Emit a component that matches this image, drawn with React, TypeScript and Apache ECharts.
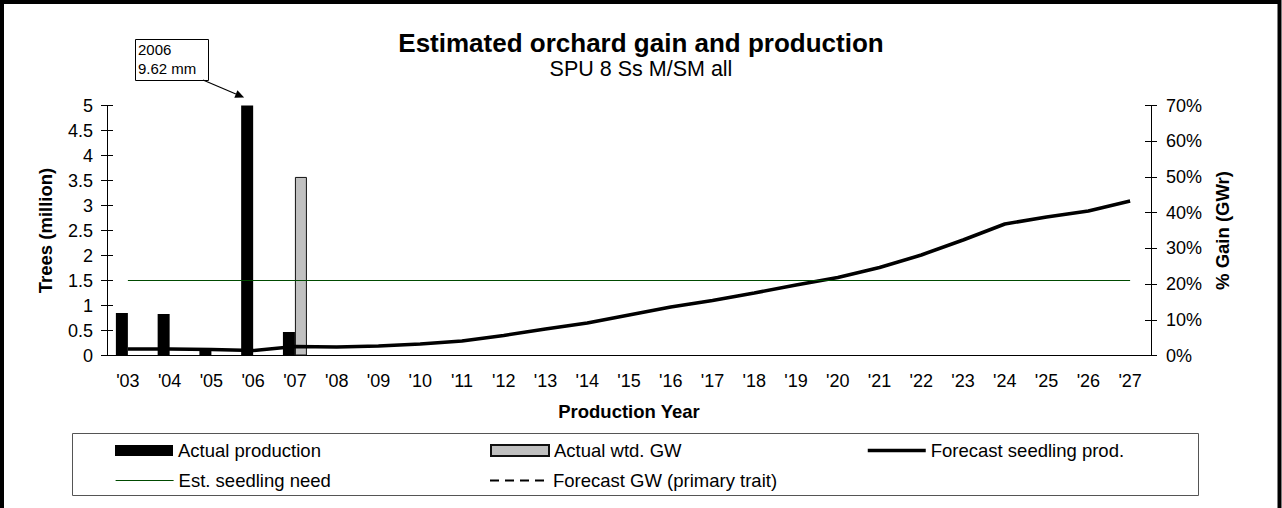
import React, { useEffect, useRef } from "react";
import * as echarts from "echarts";

const categories = [
  "'03", "'04", "'05", "'06", "'07", "'08", "'09", "'10", "'11", "'12", "'13", "'14", "'15",
  "'16", "'17", "'18", "'19", "'20", "'21", "'22", "'23", "'24", "'25", "'26", "'27",
];

// Trees (million), primary axis
const actualProduction: (number | null)[] = [
  0.85, 0.83, 0.1, 9.62, 0.47, null, null, null, null, null, null, null, null,
  null, null, null, null, null, null, null, null, null, null, null, null,
];

// % Gain, secondary axis
const actualWtdGW: (number | null)[] = [
  null, null, null, null, 50, null, null, null, null, null, null, null, null,
  null, null, null, null, null, null, null, null, null, null, null, null,
];

// Trees (million), primary axis
const forecastSeedlingProd = [
  0.13, 0.13, 0.12, 0.1, 0.18, 0.17, 0.19, 0.23, 0.29, 0.4, 0.53, 0.65, 0.81,
  0.97, 1.1, 1.25, 1.41, 1.56, 1.76, 2.01, 2.31, 2.63, 2.77, 2.89, 3.09,
];

// Trees (million), primary axis
const estSeedlingNeed = [
  1.5, 1.5, 1.5, 1.5, 1.5, 1.5, 1.5, 1.5, 1.5, 1.5, 1.5, 1.5, 1.5,
  1.5, 1.5, 1.5, 1.5, 1.5, 1.5, 1.5, 1.5, 1.5, 1.5, 1.5, 1.5,
];

// % Gain, secondary axis (no values shown)
const forecastGW: (number | null)[] = [];

const annotationLines = ["2006", "9.62 mm"];

const FONT = '"Liberation Sans", Arial, sans-serif';

export default function App() {
  const ref = useRef<HTMLDivElement>(null);

  useEffect(() => {
    if (!ref.current) return;
    const chart = echarts.init(ref.current, undefined, { renderer: "svg" });

    const axisLineStyle = { color: "#000", width: 1 };
    const tickStyle = { color: "#000", width: 1 };
    const tickFont = { fontSize: 18, color: "#000", fontFamily: FONT };
    const nameFont = { fontSize: 18.5, fontWeight: "bold", color: "#000", fontFamily: FONT };

    const legendCommon = {
      itemWidth: 58,
      itemHeight: 11,
      padding: 0,
      selectedMode: false,
      textStyle: { fontSize: 18.5, color: "#000", fontFamily: FONT },
    };
    const lineLegend = {
      itemStyle: { opacity: 0 },
      lineStyle: { width: "inherit" },
    };

    const option: any = {
      animation: false,
      backgroundColor: "#fff",
      textStyle: { fontFamily: FONT, color: "#000" },
      title: [
        {
          text: "Estimated orchard gain and production",
          left: "center",
          top: 30,
          padding: 0,
          textStyle: { fontSize: 26, fontWeight: "bold", color: "#000", fontFamily: FONT },
        },
        {
          text: "SPU 8 Ss M/SM all",
          left: "center",
          top: 57.5,
          padding: 0,
          textStyle: { fontSize: 21.5, fontWeight: "normal", color: "#000", fontFamily: FONT },
        },
      ],
      grid: { left: 107, right: 131, top: 105.5, bottom: 152.5 },
      xAxis: [
        {
          type: "category",
          data: categories,
          position: "bottom",
          axisLine: { lineStyle: axisLineStyle },
          axisTick: { length: 5, lineStyle: tickStyle },
          axisLabel: { ...tickFont, margin: 16 },
          splitLine: { show: false },
          name: "Production Year",
          nameLocation: "middle",
          nameGap: 46,
          nameTextStyle: nameFont,
        },
        {
          type: "category",
          data: categories,
          position: "bottom",
          axisLine: { show: false },
          axisTick: { inside: true, length: 5, lineStyle: tickStyle },
          axisLabel: { show: false },
          splitLine: { show: false },
        },
      ],
      yAxis: [
        {
          type: "value",
          min: 0,
          max: 5,
          interval: 0.5,
          position: "left",
          axisLine: { show: true, lineStyle: axisLineStyle },
          axisTick: { show: true, length: 6, lineStyle: tickStyle },
          axisLabel: { ...tickFont, margin: 14 },
          splitLine: { show: false },
          name: "Trees (million)",
          nameLocation: "middle",
          nameGap: 52,
          nameTextStyle: nameFont,
        },
        {
          type: "value",
          min: 0,
          max: 70,
          interval: 10,
          position: "right",
          axisLine: { show: true, lineStyle: axisLineStyle },
          axisTick: { show: true, length: 6, lineStyle: tickStyle },
          axisLabel: { ...tickFont, margin: 15, formatter: "{value}%" },
          splitLine: { show: false },
          name: "% Gain (GWr)",
          nameLocation: "middle",
          nameGap: 61,
          nameTextStyle: nameFont,
        },
        {
          type: "value",
          min: 0,
          max: 5,
          interval: 0.5,
          position: "left",
          axisLine: { show: false },
          axisTick: { show: true, inside: true, length: 6, lineStyle: tickStyle },
          axisLabel: { show: false },
          splitLine: { show: false },
        },
        {
          type: "value",
          min: 0,
          max: 70,
          interval: 10,
          position: "right",
          axisLine: { show: false },
          axisTick: { show: true, inside: true, length: 6, lineStyle: tickStyle },
          axisLabel: { show: false },
          splitLine: { show: false },
        },
      ],
      legend: [
        { ...legendCommon, data: ["Actual production"], icon: "rect", left: 115, top: 441 },
        { ...legendCommon, data: ["Actual wtd. GW"], icon: "rect", left: 490, top: 441 },
        { ...legendCommon, ...lineLegend, data: ["Forecast seedling prod."], left: 866, top: 441 },
        { ...legendCommon, ...lineLegend, data: ["Est. seedling need"], left: 115, top: 471 },
        { ...legendCommon, ...lineLegend, data: ["Forecast GW (primary trait)"], left: 489, top: 471 },
      ],
      series: [
        {
          name: "Actual production",
          type: "bar",
          xAxisIndex: 0,
          yAxisIndex: 0,
          data: actualProduction,
          barWidth: 12,
          barGap: "0%",
          itemStyle: { color: "#000" },
        },
        {
          name: "Actual wtd. GW",
          type: "bar",
          xAxisIndex: 0,
          yAxisIndex: 1,
          data: actualWtdGW,
          barWidth: 12,
          barGap: "0%",
          itemStyle: { color: "#c0c0c0", borderColor: "#111", borderWidth: 1 },
        },
        {
          name: "Forecast seedling prod.",
          type: "line",
          xAxisIndex: 0,
          yAxisIndex: 0,
          data: forecastSeedlingProd,
          symbol: "none",
          lineStyle: { color: "#000", width: 3.5 },
          itemStyle: { color: "#000" },
        },
        {
          name: "Est. seedling need",
          type: "line",
          xAxisIndex: 0,
          yAxisIndex: 0,
          data: estSeedlingNeed,
          symbol: "none",
          lineStyle: { color: "#004a00", width: 1.2 },
          itemStyle: { color: "#004a00" },
        },
        {
          name: "Forecast GW (primary trait)",
          type: "line",
          xAxisIndex: 0,
          yAxisIndex: 1,
          data: forecastGW,
          symbol: "none",
          lineStyle: { color: "#000", width: 2, type: [9, 6] },
          itemStyle: { color: "#000" },
        },
      ],
    };

    chart.setOption(option);

    // annotation anchored to the '06 bar top
    const top = chart.convertToPixel({ xAxisIndex: 0, yAxisIndex: 0 }, ["'06", 5]) as number[];
    const tip = [top[0] - 9, top[1] - 8];
    const start = [203, 80];
    const dx = tip[0] - start[0];
    const dy = tip[1] - start[1];
    const len = Math.sqrt(dx * dx + dy * dy);
    const ux = dx / len;
    const uy = dy / len;
    const nx = -uy;
    const ny = ux;
    const headL = 9;
    const headW = 4;
    const base = [tip[0] - ux * headL, tip[1] - uy * headL];

    chart.setOption({
      graphic: [
        {
          type: "rect",
          shape: { x: 2, y: 2, width: 1277.5, height: 560 },
          style: { fill: "rgba(0,0,0,0)", stroke: "#000", lineWidth: 4 },
          silent: true,
        },
        {
          type: "rect",
          shape: { x: 72.5, y: 433.5, width: 1126, height: 62 },
          style: { fill: "rgba(0,0,0,0)", stroke: "#555", lineWidth: 1 },
          silent: true,
        },
        {
          type: "rect",
          shape: { x: 135.5, y: 39.5, width: 73, height: 41 },
          style: { fill: "#fff", stroke: "#000", lineWidth: 1 },
          silent: true,
        },
        {
          type: "text",
          x: 138,
          y: 42,
          style: { text: annotationLines[0], fontSize: 15, fill: "#000", fontFamily: FONT },
          silent: true,
        },
        {
          type: "text",
          x: 138,
          y: 61,
          style: { text: annotationLines[1], fontSize: 15, fill: "#000", fontFamily: FONT },
          silent: true,
        },
        {
          type: "line",
          shape: { x1: start[0], y1: start[1], x2: base[0], y2: base[1] },
          style: { stroke: "#000", lineWidth: 1.2 },
          silent: true,
        },
        {
          type: "polygon",
          shape: {
            points: [
              [tip[0], tip[1]],
              [base[0] + nx * headW, base[1] + ny * headW],
              [base[0] - nx * headW, base[1] - ny * headW],
            ],
          },
          style: { fill: "#000" },
          silent: true,
        },
      ],
    });

    return () => chart.dispose();
  }, []);

  return (
    <div
      ref={ref}
      style={{ position: "absolute", left: 0, top: 0, width: 1282, height: 508 }}
    />
  );
}
